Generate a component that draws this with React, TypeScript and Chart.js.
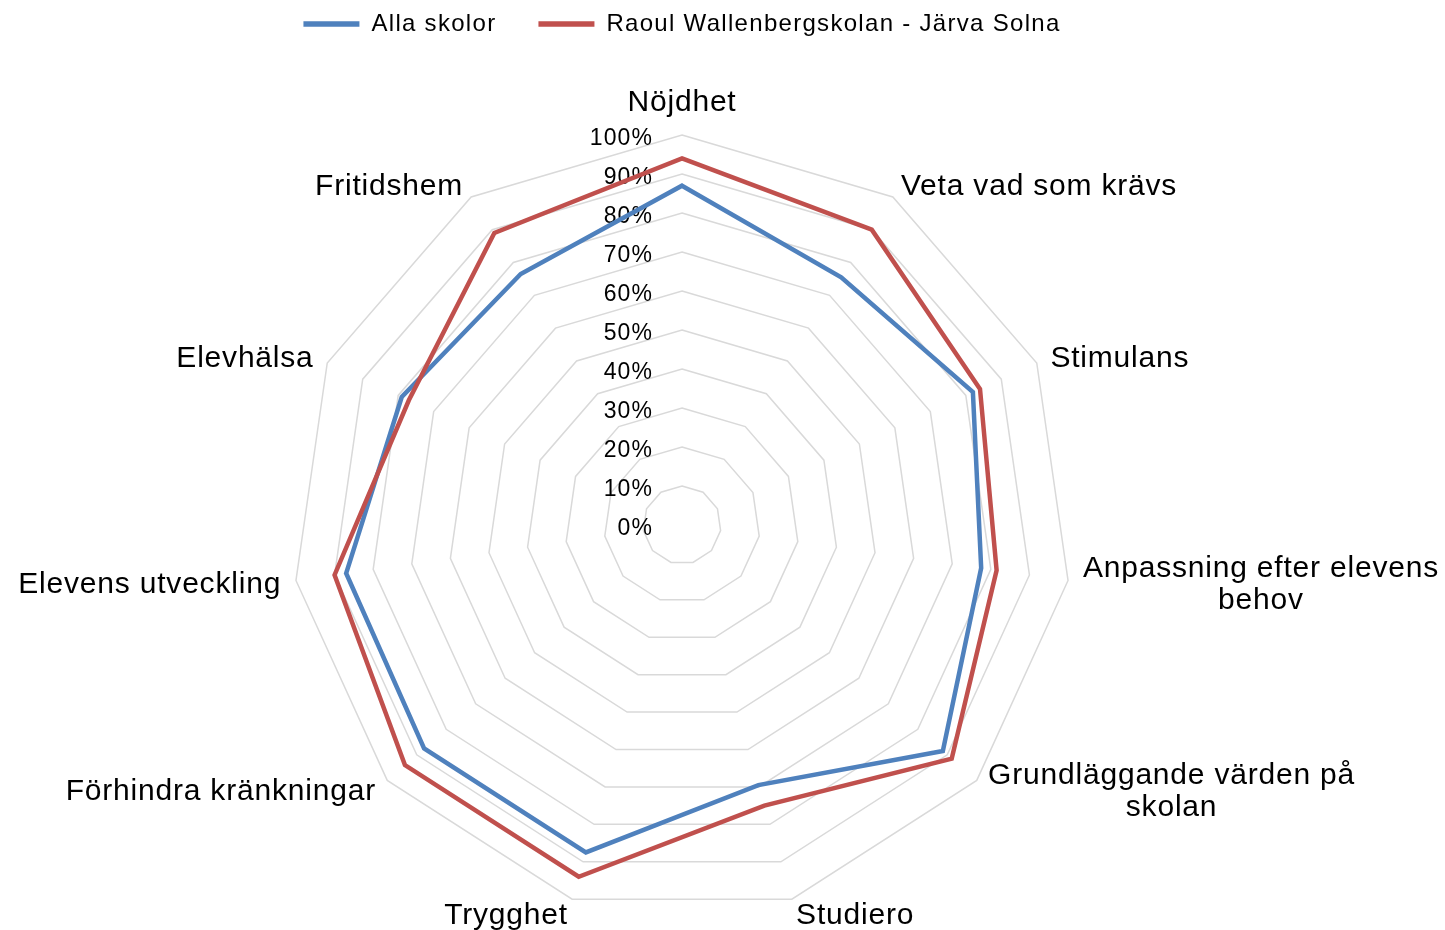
import { useEffect, useRef } from 'react';
import { Chart, registerables } from 'chart.js';

Chart.register(...registerables);

const FONT = "'Liberation Sans', Arial, sans-serif";

const categories: (string | string[])[] = [
  'Nöjdhet',
  'Veta vad som krävs',
  'Stimulans',
  ['Anpassning efter elevens', 'behov'],
  ['Grundläggande värden på', 'skolan'],
  'Studiero',
  'Trygghet',
  'Förhindra kränkningar',
  'Elevens utveckling',
  'Elevhälsa',
  'Fritidshem',
];

const seriesNames = ['Alla skolor', 'Raoul Wallenbergskolan - Järva Solna'];
const allaSkolor = [87, 75.5, 82, 77.5, 88.5, 69.5, 87.5, 87.5, 87, 79, 76.5];
const raoulWallenberg = [94, 90, 84, 81.5, 91.5, 75, 94, 94, 90, 77, 89];
const seriesColors = ['#4F81BD', '#C0504D'];

const axisMin = 0;
const axisMax = 100;
const axisStep = 10;
const tickSuffix = '%';

const textPlugin = {
  id: 'radarText',
  beforeLayout(chart: any) {
    chart.ctx.letterSpacing = '1.3px';
  },
  beforeDraw(chart: any) {
    chart.ctx.letterSpacing = '1.3px';
  },
  beforeDatasetsDraw(chart: any) {
    const s = chart.scales.r;
    const ctx = chart.ctx;
    ctx.save();
    ctx.letterSpacing = '1.1px';
    ctx.font = `23px ${FONT}`;
    ctx.fillStyle = '#000';
    ctx.textAlign = 'right';
    ctx.textBaseline = 'middle';
    s.ticks.forEach((t: any) => {
      const d = s.getDistanceFromCenterForValue(t.value);
      ctx.fillText(`${Math.round(t.value)}${tickSuffix}`, s.xCenter - 29, s.yCenter - d + 3.5);
    });
    ctx.restore();
  },
  afterDatasetsDraw(chart: any) {
    const s = chart.scales.r;
    const ctx = chart.ctx;
    ctx.save();
    ctx.letterSpacing = '0.8px';
    ctx.font = `30px ${FONT}`;
    ctx.fillStyle = '#000';
    ctx.textAlign = 'center';
    ctx.textBaseline = 'middle';
    const lh = 32;
    (chart.data.labels as (string | string[])[]).forEach((lab, i) => {
      const lines = Array.isArray(lab) ? lab : [lab];
      const w = Math.max(...lines.map((l) => ctx.measureText(l).width));
      const h = lines.length * lh;
      const p = s.getPointPosition(i, s.drawingArea + 15);
      const dx = p.x - s.xCenter;
      let cx: number;
      let cy: number;
      if (Math.abs(dx) < 2) {
        cx = p.x;
        cy = p.y < s.yCenter ? p.y - h / 2 - 3 : p.y + h / 2 + 3;
      } else {
        cx = dx > 0 ? p.x + w / 2 : p.x - w / 2;
        cy = p.y;
      }
      lines.forEach((l, k) => {
        ctx.fillText(l, cx, cy - h / 2 + lh / 2 + k * lh + 2);
      });
    });
    ctx.restore();
  },
};

export default function App() {
  const canvasRef = useRef<HTMLCanvasElement | null>(null);

  useEffect(() => {
    if (!canvasRef.current) return;
    Chart.defaults.font.family = FONT;
    const chart = new Chart(canvasRef.current, {
      type: 'radar',
      data: {
        labels: categories as any,
        datasets: [
          {
            label: seriesNames[0],
            data: allaSkolor,
            borderColor: seriesColors[0],
            backgroundColor: seriesColors[0],
            borderWidth: 4.5,
            pointRadius: 0,
            pointHoverRadius: 0,
            fill: false,
            borderCapStyle: 'round',
            borderJoinStyle: 'miter',
            order: 1,
          },
          {
            label: seriesNames[1],
            data: raoulWallenberg,
            borderColor: seriesColors[1],
            backgroundColor: seriesColors[1],
            borderWidth: 4.5,
            pointRadius: 0,
            pointHoverRadius: 0,
            fill: false,
            borderCapStyle: 'round',
            borderJoinStyle: 'miter',
            order: 0,
          },
        ],
      },
      options: {
        responsive: false,
        animation: false,
        events: [],
        layout: {
          padding: { top: -30, left: 0, right: 81, bottom: 15 },
        },
        plugins: {
          tooltip: { enabled: false },
          legend: {
            display: true,
            position: 'top',
            weight: 3000,
            labels: {
              usePointStyle: true,
              pointStyle: 'line',
              pointStyleWidth: 56,
              padding: 42,
              color: '#000',
              font: { size: 24, family: FONT },
              generateLabels: (c: any) =>
                (Chart.defaults.plugins.legend.labels.generateLabels as any)(c).map((l: any) => ({
                  ...l,
                  lineWidth: 5.5,
                })),
              sort: (a: any, b: any) => a.datasetIndex - b.datasetIndex,
            },
          } as any,
          title: {
            display: true,
            text: '',
            font: { size: 10, lineHeight: 1 },
            padding: { top: 0, bottom: 79 },
          },
        },
        scales: {
          r: {
            min: axisMin,
            max: axisMax,
            startAngle: 0,
            ticks: { display: false, stepSize: axisStep },
            grid: { color: '#d9d9d9', lineWidth: 1.5 },
            angleLines: { display: false },
            pointLabels: { display: false },
          },
        },
      } as any,
      plugins: [textPlugin],
    });
    return () => chart.destroy();
  }, []);

  return (
    <div style={{ position: 'absolute', left: 0, top: 0, width: 1445, height: 930, background: '#fff' }}>
      <canvas ref={canvasRef} width={1445} height={930} style={{ display: 'block' }} />
    </div>
  );
}
